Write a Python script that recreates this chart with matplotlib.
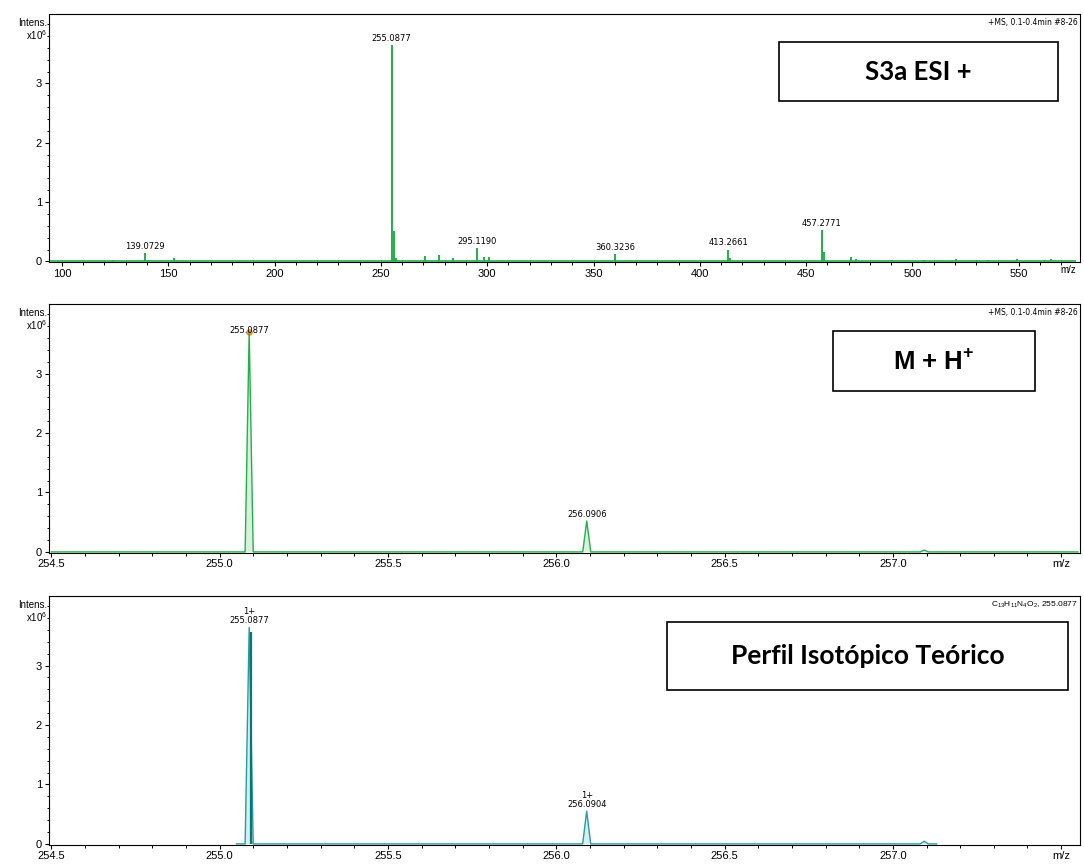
import matplotlib.pyplot as plt
from matplotlib.patches import Rectangle
from matplotlib.ticker import MultipleLocator, FixedLocator

plt.rcParams["font.family"] = ["Liberation Sans", "DejaVu Sans"]
plt.rcParams["mathtext.fontset"] = "custom"
plt.rcParams["mathtext.rm"] = "Liberation Sans"
plt.rcParams["mathtext.bf"] = "Liberation Sans:bold"

GREEN = "#22b04a"
GREEN_FILL = "#d9f0dd"
TEAL = "#2a9d9b"
TEAL_DARK = "#007a78"
TEAL_FILL = "#d6efee"

# full scan, intensities in 1e6 counts
scan_mz = [124.1, 139.0729, 141.1, 152.6, 222.0, 240.1, 255.0877, 256.0906,
           257.09, 270.6, 277.1, 284.1, 295.1190, 298.6, 300.9, 326.2, 338.3,
           352.3, 360.3236, 368.3, 413.2661, 414.3, 457.2771, 458.28, 471.3,
           473.3, 490.3, 505.3, 520.3, 530.3, 535.3, 549.3, 562.3, 565.3]
scan_int = [0.02, 0.14, 0.02, 0.05, 0.01, 0.015, 3.65, 0.52,
            0.05, 0.09, 0.1, 0.05, 0.23, 0.08, 0.08, 0.012, 0.012,
            0.01, 0.12, 0.015, 0.2, 0.05, 0.53, 0.16, 0.07,
            0.04, 0.02, 0.02, 0.04, 0.02, 0.02, 0.04, 0.02, 0.04]
scan_labels = ["139.0729", "255.0877", "295.1190", "360.3236", "413.2661", "457.2771"]

# M + H+ zoom
mh_mz = [255.0877, 256.0906, 257.0935]
mh_int = [3.7, 0.52, 0.03]
mh_halfwidth = [0.012, 0.012, 0.012]
mh_labels = ["255.0877", "256.0906", None]

# theoretical isotope pattern
th_mz = [255.0877, 256.0904, 257.0932]
th_int = [3.64, 0.55, 0.045]
th_halfwidth = [0.012, 0.012, 0.012]
th_labels = ["1+\n255.0877", "1+\n256.0904", None]

y_ticks = [0, 1, 2, 3]
zoom_ticks = [254.5, 255.0, 255.5, 256.0, 256.5, 257.0, 257.5]
zoom_ticklabels = ["254.5", "255.0", "255.5", "256.0", "256.5", "257.0", "m/z"]

W, H = 1084, 865


def frac(x0, y0, x1, y1):
    return [x0 / W, 1 - y1 / H, (x1 - x0) / W, (y1 - y0) / H]


def style_axes(ax):
    ax.set_ylim(-0.01, 4.17)
    ax.set_yticks(y_ticks)
    ax.yaxis.set_minor_locator(FixedLocator([i * 0.2 for i in range(21)]))
    ax.tick_params(which="major", direction="out", length=3, width=0.8,
                   labelsize=8, pad=2)
    ax.tick_params(which="minor", direction="out", length=1.8, width=0.7)
    for s in ax.spines.values():
        s.set_linewidth(0.8)
    ax.text(-0.002, 0.985, "Intens.\nx10$^6$", transform=ax.transAxes,
            ha="right", va="top", fontsize=7, linespacing=1.0)


def label_box(fig, x0, y0, x1, y1, text, family, size):
    fig.add_artist(Rectangle((x0 / W, 1 - y1 / H), (x1 - x0) / W, (y1 - y0) / H,
                             transform=fig.transFigure, fill=True, facecolor="white",
                             edgecolor="black", linewidth=1.2))
    fig.text((x0 + x1) / 2 / W, 1 - (y0 + y1) / 2 / H, text, ha="center",
             va="center", fontsize=size, fontweight="bold", family=family)


def profile(mz, inten, hw, x_lo, x_hi):
    xs, ys = [x_lo], [0.0]
    for m, h, w in zip(mz, inten, hw):
        xs += [m - w, m, m + w]
        ys += [0.0, h, 0.0]
    xs.append(x_hi)
    ys.append(0.0)
    return xs, ys


fig = plt.figure(figsize=(W / 100, H / 100), dpi=100)

# panel 1 - full scan
ax1 = fig.add_axes(frac(49, 14, 1080, 262))
style_axes(ax1)
ax1.set_xlim(93.9, 578.8)
ax1.xaxis.set_major_locator(MultipleLocator(50))
ax1.xaxis.set_minor_locator(MultipleLocator(10))
ax1.hlines(0, 94, 577, color=GREEN, lw=1.2)
ax1.vlines(scan_mz, 0, scan_int, color=GREEN, lw=1.4)
for m, h in zip(scan_mz, scan_int):
    if f"{m:.4f}" in scan_labels:
        ax1.annotate(f"{m:.4f}", (m, h), xytext=(0, 1.5), textcoords="offset points",
                     ha="center", va="bottom", fontsize=6, family="DejaVu Sans")
ax1.text(0.998, 0.985, "+MS, 0.1-0.4min #8-26", transform=ax1.transAxes,
         ha="right", va="top", fontsize=5.5, family="DejaVu Sans")
ax1.text(0.989, -0.012, "m/z", transform=ax1.transAxes, ha="center", va="top",
         fontsize=7)
label_box(fig, 779, 42, 1058, 101, "S3a ESI +", "Lato", 18.5)

# panel 2 - M + H+
ax2 = fig.add_axes(frac(49, 304, 1080, 552.5))
style_axes(ax2)
ax2.set_xlim(254.493, 257.556)
ax2.set_xticks(zoom_ticks, zoom_ticklabels)
ax2.xaxis.set_minor_locator(MultipleLocator(0.1))
xs, ys = profile(mh_mz, mh_int, mh_halfwidth, 254.5, 257.55)
ax2.fill(xs, ys, color=GREEN_FILL, lw=0)
ax2.plot(xs, ys, color=GREEN, lw=1.0)
ax2.plot(mh_mz[0], mh_int[0], "o", ms=4, mfc="#f2a23a", mec="#d4801c", mew=0.6,
         zorder=1)
for i, (m, h, lab) in enumerate(zip(mh_mz, mh_int, mh_labels)):
    if lab:
        ax2.annotate(lab, (m, h), xytext=(0, -2.5 if i == 0 else 1.5),
                     textcoords="offset points", ha="center", va="bottom",
                     fontsize=6, family="DejaVu Sans", zorder=3)
ax2.text(0.998, 0.985, "+MS, 0.1-0.4min #8-26", transform=ax2.transAxes,
         ha="right", va="top", fontsize=5.5, family="DejaVu Sans")
label_box(fig, 833, 331, 1035, 391, "M + H$^{\\mathbf{+}}$", "Liberation Sans", 18.5)

# panel 3 - theoretical pattern
ax3 = fig.add_axes(frac(49, 596, 1080, 844.5))
style_axes(ax3)
ax3.set_xlim(254.493, 257.556)
ax3.set_xticks(zoom_ticks, zoom_ticklabels)
ax3.xaxis.set_minor_locator(MultipleLocator(0.1))
xs, ys = profile(th_mz, th_int, th_halfwidth, 255.05, 257.13)
ax3.fill(xs, ys, color=TEAL_FILL, lw=0)
ax3.plot(xs, ys, color=TEAL, lw=1.0)
ax3.vlines([th_mz[0] + 0.004], 0, [th_int[0] * 0.98], color=TEAL_DARK, lw=1.6)
for m, h, lab in zip(th_mz, th_int, th_labels):
    if lab:
        ax3.annotate(lab, (m, h), xytext=(0, 1.5), textcoords="offset points",
                     ha="center", va="bottom", fontsize=6, family="DejaVu Sans",
                     linespacing=1.0)
ax3.text(0.998, 0.985, "C$_{13}$H$_{11}$N$_4$O$_2$, 255.0877", transform=ax3.transAxes,
         ha="right", va="top", fontsize=6)
label_box(fig, 667, 622, 1068, 690, "Perfil Isotópico Teórico", "Lato", 19)

fig.savefig("out.png", dpi=100)
